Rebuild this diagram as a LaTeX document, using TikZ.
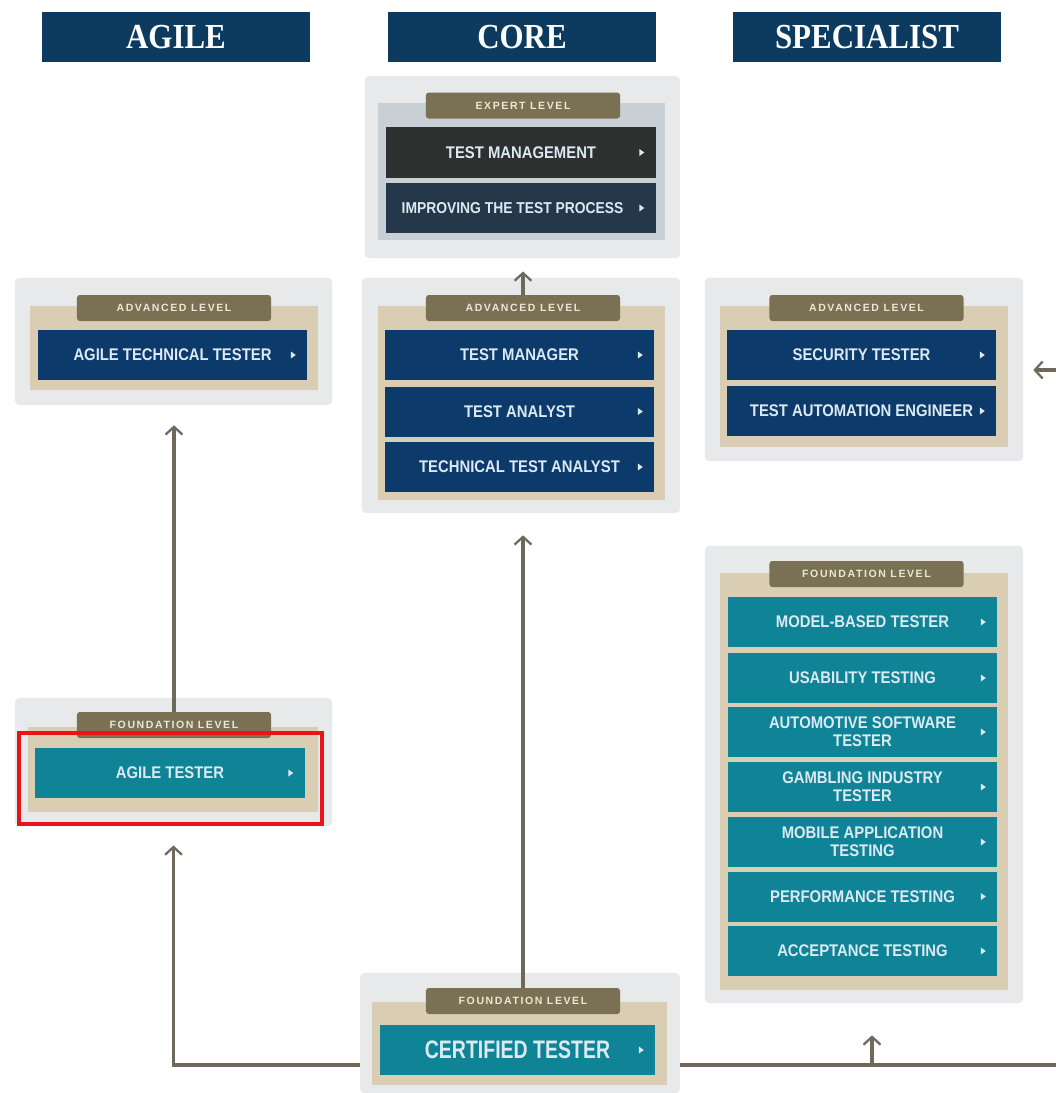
\documentclass[tikz,border=0pt]{standalone}
\usepackage{fontspec}
\usetikzlibrary{arrows.meta}
\newfontfamily\headfam[FakeStretch=0.88]{Liberation Serif}
\newfontfamily\itemfam[FakeStretch=0.88]{Liberation Sans}
\newfontfamily\lvlfam[LetterSpace=15]{Liberation Sans}
\newfontfamily\certfam[FakeStretch=0.77]{Liberation Sans}
\definecolor{headnavy}{HTML}{0D3B5F}
\definecolor{panelgray}{HTML}{E7E9EB}
\definecolor{traybeige}{HTML}{D9CDB3}
\definecolor{expertgray}{HTML}{C9D0D5}
\definecolor{lvlbrown}{HTML}{7A7053}
\definecolor{lvltext}{HTML}{ECE6D6}
\definecolor{itemnavy}{HTML}{0C3A6A}
\definecolor{itemteal}{HTML}{0F8497}
\definecolor{itemdark}{HTML}{2E2F2F}
\definecolor{itemslate}{HTML}{24384A}
\definecolor{itemtext}{HTML}{DCE9F2}
\definecolor{linkgray}{HTML}{6D6A5C}
\definecolor{markred}{HTML}{E8141B}
\tikzset{
    head/.style={fill=headnavy, text=white, minimum width=6.7cm, minimum height=1.25cm, inner sep=0pt,
        font=\headfam\bfseries\fontsize{25}{25}\selectfont},
    panel/.style={fill=panelgray, rounded corners=3pt, inner sep=0pt},
    tray/.style={fill=traybeige, inner sep=0pt},
    lvl/.style={fill=lvlbrown, text=lvltext, rounded corners=2pt, minimum width=4.85cm, minimum height=0.65cm,
        inner sep=0pt, font=\lvlfam\bfseries\fontsize{7.5}{7.5}\selectfont},
    item/.style={minimum width=6.725cm, minimum height=1.25cm, inner sep=0pt, text=itemtext, align=center,
        font=\itemfam\bfseries\fontsize{12}{13}\selectfont,
        path picture={\fill[itemtext] ([xshift=-8pt]path picture bounding box.east) -- ++(-3.5pt,2.5pt) -- ++(0,-5pt) -- cycle;}},
    navyitem/.style={item, fill=itemnavy},
    tealitem/.style={item, fill=itemteal},
    link/.style={draw=linkgray, line width=2.2pt},
    arrow/.style={link, -{Straight Barb[length=5.5pt, width=12pt, line width=1.6pt]}},
    redbox/.style={draw=markred, line width=2.8pt, minimum width=7.575cm, minimum height=2.275cm, inner sep=0pt},
}
\begin{document}
\begin{tikzpicture}[x=0.025cm, y=-0.025cm]
    \fill[white] (0,0) rectangle (1056,1093);
    \useasboundingbox (0,0) rectangle (1056,1093);

    \node[head] (agile) at (176,37) {AGILE};
    \node[head] (core) at (522,37) {CORE};
    \node[head] (specialist) at (867,37) {SPECIALIST};

    \node[panel, minimum width=7.875cm, minimum height=4.55cm] (exppanel) at (522.5,167) {};
    \node[tray, fill=expertgray, minimum width=7.175cm, minimum height=3.425cm] (exptray) at (521.5,171.5) {};
    \node[lvl] (explvl) at (523,105.5) {EXPERT LEVEL};
    \node[item, fill=itemdark] (testmgmt) at (521,152.5) {TEST MANAGEMENT};
    \node[item, fill=itemslate, font=\itemfam\bfseries\fontsize{11.2}{13}\selectfont] (improving) at (521,208) {IMPROVING THE TEST PROCESS\hspace*{12pt}};

    \node[panel, minimum width=7.925cm, minimum height=3.175cm] (agadvpanel) at (173.5,341.5) {};
    \node[tray, minimum width=7.2cm, minimum height=2.1cm] (agadvtray) at (174,348) {};
    \node[lvl] (agadvlvl) at (174,308) {ADVANCED LEVEL};
    \node[navyitem] (agtech) at (172.5,355) {AGILE TECHNICAL TESTER};

    \node[panel, minimum width=7.95cm, minimum height=5.875cm] (coadvpanel) at (521,395.5) {};
    \node[tray, minimum width=7.175cm, minimum height=4.85cm] (coadvtray) at (521.5,403) {};
    \node[lvl] (coadvlvl) at (523,308) {ADVANCED LEVEL};
    \node[navyitem] (manager) at (519.5,355) {TEST MANAGER};
    \node[navyitem] (analyst) at (519.5,411.5) {TEST ANALYST};
    \node[navyitem] (techanalyst) at (519.5,467) {TECHNICAL TEST ANALYST};

    \node[panel, minimum width=7.95cm, minimum height=4.575cm] (spadvpanel) at (864,369.5) {};
    \node[tray, minimum width=7.2cm, minimum height=3.525cm] (spadvtray) at (864,376.5) {};
    \node[lvl] (spadvlvl) at (866.5,308) {ADVANCED LEVEL};
    \node[navyitem] (security) at (861.5,355) {SECURITY TESTER};
    \node[navyitem] (automation) at (861.5,411) {TEST AUTOMATION ENGINEER};

    \node[panel, minimum width=7.925cm, minimum height=3.2cm] (agfpanel) at (173.5,762) {};
    \node[tray, minimum width=7.25cm, minimum height=2.125cm] (agftray) at (173,769.5) {};
    \node[lvl] (agflvl) at (174,725) {FOUNDATION LEVEL};
    \node[tealitem] (agiletester) at (170,773) {AGILE TESTER};
    \node[redbox] (agilemark) at (170.5,778.5) {};

    \node[panel, minimum width=7.95cm, minimum height=11.425cm] (spfpanel) at (864,774.5) {};
    \node[tray, minimum width=7.2cm, minimum height=10.425cm] (spftray) at (864,781.5) {};
    \node[lvl] (spflvl) at (866.5,574) {FOUNDATION LEVEL};
    \node[tealitem] (modelbased) at (862.5,622) {MODEL-BASED TESTER};
    \node[tealitem] (usability) at (862.5,678) {USABILITY TESTING};
    \node[tealitem] (automotive) at (862.5,732) {AUTOMOTIVE SOFTWARE\\TESTER};
    \node[tealitem] (gambling) at (862.5,787) {GAMBLING INDUSTRY\\TESTER};
    \node[tealitem] (mobile) at (862.5,842) {MOBILE APPLICATION\\TESTING};
    \node[tealitem] (performance) at (862.5,896.5) {PERFORMANCE TESTING};
    \node[tealitem] (acceptance) at (862.5,951) {ACCEPTANCE TESTING};

    \node[panel, minimum width=8cm, minimum height=3cm] (certpanel) at (520,1033) {};
    \node[tray, minimum width=7.375cm, minimum height=2.075cm] (certtray) at (519.5,1043.5) {};
    \node[lvl] (certlvl) at (523,1001) {FOUNDATION LEVEL};
    \node[tealitem, minimum width=6.875cm, font=\certfam\bfseries\fontsize{18}{18}\selectfont] (certified) at (517.5,1050) {CERTIFIED TESTER};

    \coordinate (certl) at (360,1065);
    \coordinate (certr) at (680,1065);
    \coordinate (rightend) at (1056,1065);
    \coordinate (spbranch) at (872,1065);
    \coordinate (specin) at (1056,370);

    \draw[arrow, shorten >=0.5cm] (agflvl.north) -- (agflvl.north |- agadvpanel.south);
    \draw[arrow, shorten >=0.55cm] (certlvl.north) -- (certlvl.north |- coadvpanel.south);
    \draw[arrow, shorten >=0.33cm] (coadvlvl.north) -- (coadvlvl.north |- exppanel.south);
    \draw[arrow, shorten >=0.48cm] (certl) -| (agfpanel.south);
    \draw[link] (certr) -- (rightend);
    \draw[arrow, shorten >=0.8cm] (spbranch) -- (spbranch |- spfpanel.south);
    \draw[arrow, shorten >=0.25cm] (specin) -- (spadvpanel.east |- specin);
\end{tikzpicture}
\end{document}
